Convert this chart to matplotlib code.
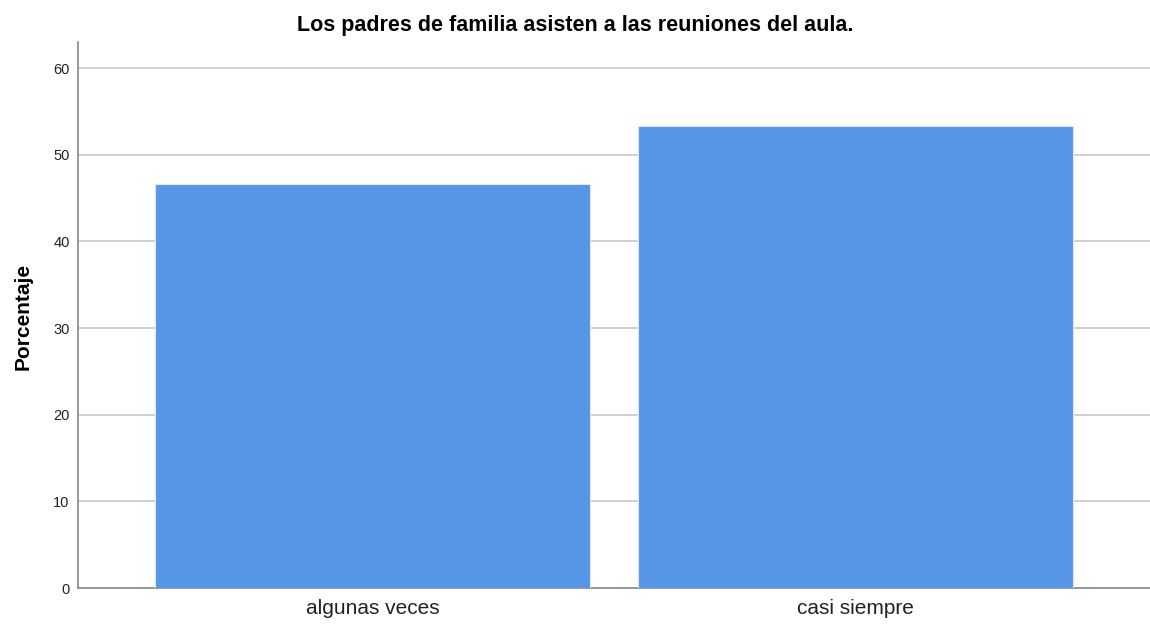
import matplotlib.pyplot as plt
import numpy as np

categories = ['algunas veces', 'casi siempre']
porcentaje = [46.67, 53.33]
yticks = [0, 10, 20, 30, 40, 50, 60]

plt.rcParams['font.family'] = ['Liberation Sans', 'DejaVu Sans']

fig = plt.figure(figsize=(11.5, 6.24), dpi=100)
ax = fig.add_axes([78/1150, 36/624, 1 - 78/1150, 546/624])

x = np.arange(len(categories))
ax.bar(x, porcentaje, width=0.9, color='#5596E6', edgecolor='#DCE8F8', linewidth=0.8, zorder=3)

ax.set_xlim(-0.61, 1.61)
ax.set_ylim(0, 63)
ax.set_yticks(yticks)
ax.set_xticks(x)
ax.set_xticklabels(categories, fontsize=15, color='#222222')
ax.tick_params(axis='y', length=0, labelsize=10.5, pad=6, colors='#222222')
ax.tick_params(axis='x', length=0, pad=8)
ax.yaxis.grid(True, color='#C8C8C8', linewidth=1.2, zorder=0)

for s in ['top', 'right']:
    ax.spines[s].set_visible(False)
for s in ['left', 'bottom']:
    ax.spines[s].set_color('#888888')
    ax.spines[s].set_linewidth(1.2)

fig.text(23/1150, 1 - 316/624, 'Porcentaje', rotation=90, ha='center', va='center',
         fontsize=15, fontweight='bold')
fig.text(575/1150, 1 - 25/624, 'Los padres de familia asisten a las reuniones del aula.',
         ha='center', va='center', fontsize=15.5, fontweight='bold')

fig.savefig('out.png', dpi=100)
